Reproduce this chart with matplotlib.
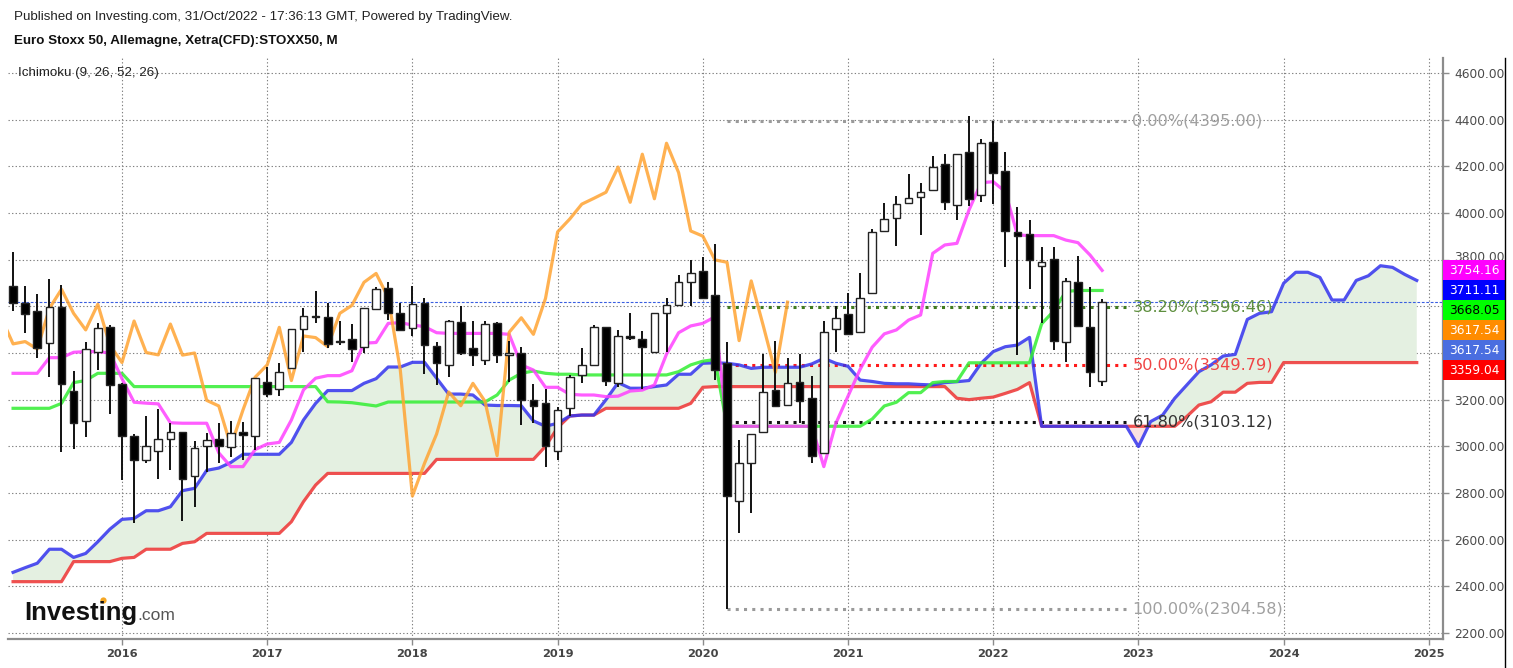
import numpy as np
import matplotlib.pyplot as plt
from matplotlib.patches import Rectangle
import matplotlib.transforms as mtransforms

# monthly candles, Apr 2015 .. Oct 2022 (index 0 = Apr 2015)
opens = [3688, 3616, 3582, 3442, 3596, 3238, 3108, 3403, 3510, 3267,
         3044, 2941, 2979, 3033, 3060, 2873, 3003, 3030, 2997, 3063,
         3044, 3274, 3244, 3334, 3502, 3560, 3556, 3452, 3459, 3424,
         3587, 3677, 3570, 3506, 3616, 3430, 3349, 3533, 3420, 3371,
         3527, 3390, 3400, 3197, 3184, 2981, 3166, 3306, 3349, 3510,
         3273, 3473, 3459, 3406, 3570, 3606, 3703, 3751, 3649, 3356,
         2764, 2927, 3060, 3240, 3177, 3274, 3206, 2970, 3502, 3566,
         3489, 3656, 3924, 3978, 4043, 4067, 4097, 4209, 4036, 4260,
         4078, 4304, 4182, 3917, 3909, 3774, 3801, 3447, 3703, 3511,
         3280]
highs = [3834, 3688, 3653, 3716, 3691, 3325, 3449, 3527, 3520, 3270,
         3051, 3128, 3159, 3101, 3062, 3021, 3059, 3099, 3110, 3106,
         3292, 3342, 3356, 3502, 3591, 3667, 3616, 3539, 3524, 3591,
         3681, 3706, 3616, 3687, 3634, 3449, 3541, 3600, 3539, 3539,
         3534, 3453, 3427, 3267, 3244, 3170, 3306, 3420, 3520, 3512,
         3498, 3573, 3493, 3572, 3634, 3734, 3797, 3811, 3867, 3449,
         3027, 3053, 3397, 3453, 3377, 3396, 3301, 3539, 3603, 3656,
         3743, 3931, 4043, 4073, 4167, 4128, 4243, 4253, 4252, 4416,
         4319, 4395, 4260, 4027, 3969, 3856, 3856, 3720, 3817, 3681,
         3631]
lows = [3580, 3487, 3377, 3296, 2974, 2989, 3039, 3327, 3139, 2856,
        2673, 2930, 2859, 2899, 2678, 2742, 2892, 2927, 2956, 2941,
        2984, 3213, 3216, 3330, 3406, 3530, 3420, 3434, 3363, 3399,
        3585, 3541, 3499, 3473, 3310, 3263, 3299, 3391, 3344, 3349,
        3356, 3277, 3091, 3101, 2910, 2941, 3128, 3271, 3349, 3259,
        3256, 3455, 3244, 3400, 3403, 3604, 3600, 3637, 3284, 2304,
        2629, 2713, 3058, 3174, 3175, 3099, 2927, 2968, 3403, 3477,
        3487, 3654, 3922, 3860, 4041, 3906, 4095, 4013, 3970, 4030,
        4049, 4039, 3768, 3392, 3674, 3530, 3413, 3360, 3516, 3253,
        3259]
closes = [3616, 3567, 3423, 3596, 3267, 3098, 3416, 3506, 3263, 3044,
          2941, 3001, 3030, 3060, 2860, 2992, 3026, 3002, 3056, 3049,
          3292, 3224, 3317, 3502, 3559, 3555, 3439, 3449, 3417, 3591,
          3673, 3570, 3499, 3609, 3434, 3359, 3537, 3402, 3392, 3524,
          3391, 3400, 3197, 3173, 3001, 3156, 3296, 3349, 3510, 3282,
          3473, 3466, 3427, 3570, 3604, 3703, 3741, 3637, 3327, 2787,
          2927, 3053, 3233, 3174, 3270, 3193, 2960, 3489, 3551, 3480,
          3634, 3919, 3974, 4038, 4063, 4089, 4197, 4046, 4252, 4061,
          4299, 4173, 3923, 3901, 3799, 3789, 3453, 3709, 3516, 3317,
          3618]

tenkan = [3313, 3313, 3313, 3380, 3380, 3403, 3406, 3406, 3400, 3290,
          3189, 3185, 3182, 3101, 3099, 3099, 3099, 2972, 2913, 2913,
          2986, 3010, 3017, 3113, 3242, 3292, 3303, 3303, 3324, 3442,
          3445, 3527, 3530, 3520, 3513, 3487, 3484, 3484, 3484, 3484,
          3484, 3480, 3349, 3327, 3253, 3253, 3223, 3220, 3220, 3213,
          3215, 3237, 3241, 3263, 3395, 3487, 3516, 3527, 3555, 3086,
          3086, 3086, 3086, 3086, 3086, 3086, 3086, 2913, 3099, 3215,
          3330, 3425, 3482, 3499, 3541, 3563, 3827, 3863, 3870, 4013,
          4130, 4134, 4091, 3906, 3903, 3903, 3903, 3884, 3873, 3820,
          3754]
kijun = [3163, 3163, 3163, 3163, 3184, 3273, 3282, 3313, 3313, 3313,
         3256, 3256, 3256, 3256, 3256, 3256, 3256, 3256, 3256, 3256,
         3256, 3256, 3256, 3256, 3256, 3256, 3191, 3190, 3187, 3180,
         3173, 3190, 3190, 3190, 3190, 3190, 3190, 3190, 3190, 3190,
         3220, 3284, 3313, 3323, 3313, 3309, 3309, 3306, 3306, 3306,
         3306, 3306, 3306, 3306, 3306, 3320, 3349, 3365, 3372, 3086,
         3086, 3086, 3086, 3086, 3086, 3086, 3086, 3086, 3086, 3086,
         3086, 3117, 3173, 3189, 3230, 3230, 3273, 3278, 3278, 3358,
         3358, 3358, 3358, 3358, 3358, 3525, 3580, 3664, 3668, 3668,
         3668]
# leading spans, Apr 2015 .. Dec 2024
senkou_a = [2460, 2480, 2499, 2559, 2559, 2524, 2541, 2591, 2645, 2687,
            2691, 2724, 2724, 2741, 2810, 2820, 2897, 2907, 2931, 2966,
            2966, 2966, 2966, 3017, 3113, 3184, 3239, 3239, 3239, 3270,
            3290, 3340, 3340, 3360, 3360, 3292, 3224, 3224, 3220, 3177,
            3175, 3175, 3174, 3109, 3086, 3099, 3130, 3134, 3134, 3200,
            3273, 3249, 3249, 3256, 3263, 3309, 3309, 3356, 3358, 3356,
            3349, 3334, 3339, 3339, 3339, 3339, 3353, 3377, 3356, 3343,
            3284, 3278, 3270, 3268, 3268, 3265, 3263, 3273, 3277, 3282,
            3356, 3406, 3427, 3434, 3467, 3086, 3086, 3086, 3086, 3086,
            3086, 3086, 3086, 2999, 3106, 3134, 3206, 3263, 3320, 3349,
            3387, 3394, 3544, 3570, 3577, 3699, 3746, 3746, 3724, 3627,
            3627, 3711, 3731, 3774, 3767, 3737, 3711]
senkou_b = [2420, 2420, 2420, 2420, 2420, 2506, 2506, 2506, 2506, 2520,
            2524, 2559, 2559, 2559, 2584, 2591, 2627, 2627, 2627, 2627,
            2627, 2627, 2627, 2677, 2763, 2834, 2884, 2884, 2884, 2884,
            2884, 2884, 2884, 2884, 2884, 2944, 2944, 2944, 2944, 2944,
            2944, 2944, 2944, 2944, 3000, 3080, 3130, 3134, 3134, 3163,
            3163, 3163, 3163, 3163, 3163, 3163, 3184, 3253, 3256, 3256,
            3256, 3256, 3256, 3256, 3256, 3256, 3256, 3256, 3256, 3256,
            3256, 3256, 3256, 3256, 3256, 3256, 3256, 3256, 3206, 3200,
            3206, 3211, 3227, 3244, 3273, 3086, 3086, 3086, 3086, 3086,
            3086, 3086, 3086, 3086, 3086, 3086, 3086, 3128, 3177, 3191,
            3232, 3232, 3270, 3274, 3274, 3359, 3359, 3359, 3359, 3359,
            3359, 3359, 3359, 3359, 3359, 3359, 3359]
displacement = 26

fib_values = [4395.00, 3596.46, 3349.79, 3103.12, 2304.58]
fib_labels = ['0.00%(4395.00)', '38.20%(3596.46)', '50.00%(3349.79)',
              '61.80%(3103.12)', '100.00%(2304.58)']
fib_line_colors = ['#9a9a9a', '#3f7a1f', '#ff1a1a', '#111111', '#9a9a9a']
fib_text_colors = ['#a0a0a0', '#5e8f3e', '#f04545', '#333333', '#a0a0a0']
fib_start, fib_end = 59, 92

last_price = 3617.54
badge_values = [3754.16, 3711.11, 3668.05, 3617.54, 3617.54, 3359.04]
badge_colors = ['#ff00ff', '#0000ff', '#00ff00', '#ff8c00', '#4a6ee0', '#ff0000']
badge_text = ['white', 'white', 'black', 'white', 'white', 'white']

price_ticks = [2200, 2400, 2600, 2800, 3000, 3200, 3400, 3600, 3800, 4000, 4200, 4400, 4600]
hidden_ticks = [3400, 3600]   # covered by the price badges in the original
years = ['2016', '2017', '2018', '2019', '2020', '2021', '2022', '2023', '2024', '2025']
year_idx = [9, 21, 33, 45, 57, 69, 81, 93, 105, 117]

W, H = 1513, 668
fig = plt.figure(figsize=(W / 100, H / 100), dpi=100)
ax = fig.add_axes([8 / W, 1 - 639 / H, (1443 - 8) / W, (639 - 58) / H])
ax.set_xlim(-0.42, 118.17)
ax.set_ylim(2174.3, 4664.3)

n = len(closes)
x = np.arange(n)
o = np.array(opens); c = np.array(closes)
h = np.array(highs); l = np.array(lows)

# grid
grid_kw = dict(color='#808080', lw=0.8, linestyle=(0, (1.2, 2)), zorder=0)
for yi in price_ticks:
    ax.axhline(yi, **grid_kw)
for xi in year_idx:
    ax.axvline(xi, **grid_kw)

# cloud
xs = np.arange(len(senkou_a))
sa = np.array(senkou_a); sb = np.array(senkou_b)
ax.fill_between(xs, sa, sb, where=sa >= sb, interpolate=True, color='#e4f0e1', lw=0, zorder=1)
ax.fill_between(xs, sa, sb, where=sa < sb, interpolate=True, color='#fbe1e1', lw=0, zorder=1)

line_kw = dict(lw=2.3, alpha=0.85, solid_joinstyle='round', zorder=3)
ax.plot(xs, sb, color='#ee3333', **line_kw)
ax.plot(xs, sa, color='#3333ee', **line_kw)
ax.plot(x, kijun, color='#33ee33', **line_kw)
ax.plot(x, tenkan, color='#ff40ff', **line_kw)
cx = np.arange(-1, n - displacement)
ax.plot(cx, closes[displacement - 1:], color='#ffa433', **line_kw)

# current price line
ax.axhline(last_price, color='#3a5fe0', lw=0.8, linestyle=(0, (2.5, 1.5)), zorder=2)

# fibonacci levels
for v, lab, lc, tc in zip(fib_values, fib_labels, fib_line_colors, fib_text_colors):
    ax.plot([fib_start, fib_end], [v, v], color=lc, lw=2.2, linestyle=(0, (1, 1.7)), zorder=2.5)
    ax.text(fib_end + 0.5, v, lab, color=tc, fontsize=11.6, va='center', ha='left',
            family='DejaVu Sans', zorder=6)

# candles
up = c >= o
ax.vlines(x, l, h, color='#111111', lw=1.4, zorder=4)
body_lo = np.minimum(o, c)
body_h = np.maximum(np.abs(c - o), 4)
ax.bar(x, body_h, bottom=body_lo, width=0.64,
       color=np.where(up, 'white', 'black'), edgecolor='#222222', lw=1.0, zorder=5)

# axes styling
for s in ['top', 'left']:
    ax.spines[s].set_visible(False)
for s in ['right', 'bottom']:
    ax.spines[s].set_color('#8c8c8c')
    ax.spines[s].set_linewidth(1.6)
ax.yaxis.tick_right()
ax.set_yticks(price_ticks)
ax.set_yticklabels(['' if v in hidden_ticks else '%.2f' % v for v in price_ticks])
ax.set_xticks(year_idx)
ax.set_xticklabels(years)
ax.tick_params(axis='y', length=4, width=1, color='#8c8c8c', pad=4, labelsize=8.8,
               labelcolor='#4a4a4a')
ax.tick_params(axis='x', length=4, width=1, color='#8c8c8c', pad=3, labelsize=8.2,
               labelcolor='#444444')
for t in ax.get_xticklabels():
    t.set_fontweight('bold')
# lift the 3800 label a touch so the top badge does not cover it
for t, v in zip(ax.get_yticklabels(), price_ticks):
    if v == 3800:
        t.set_transform(t.get_transform() +
                        mtransforms.ScaledTranslation(0, 4 / 100, fig.dpi_scale_trans))

# price badges on the right axis
trans = mtransforms.blended_transform_factory(ax.transAxes, ax.transData)
px_per_unit = (639 - 58) / (4664.3 - 2174.3)
half = 10 / px_per_unit
bw = 62 / (1443 - 8)
prev = None
for v, bc, tc in zip(badge_values, badge_colors, badge_text):
    yc = v if prev is None else min(v, prev - 2 * half)
    prev = yc
    ax.add_patch(Rectangle((1.0, yc - half), bw, 2 * half, transform=trans,
                           facecolor=bc, edgecolor='none', clip_on=False, zorder=10))
    ax.text(1.0 + 6 / 1435, yc, '%.2f' % v, transform=trans, color=tc, fontsize=8.8,
            va='center', ha='left', family='DejaVu Sans', clip_on=False, zorder=11)

# right border
fig.add_artist(plt.Line2D([1505 / W, 1505 / W], [0, 1 - 58 / H], color='black', lw=1))

# header texts
fig.text(14 / W, 1 - 17 / H,
         'Published on Investing.com, 31/Oct/2022 - 17:36:13 GMT, Powered by TradingView.',
         fontsize=9.6, family='Liberation Sans', va='center', color='#222222')
fig.text(14 / W, 1 - 41 / H, 'Euro Stoxx 50, Allemagne, Xetra(CFD):STOXX50, M',
         fontsize=9.6, family='Liberation Sans', fontweight='bold', va='center', color='#111111')
fig.text(18 / W, 1 - 73 / H, 'Ichimoku (9, 26, 52, 26)', fontsize=9.6,
         family='Liberation Sans', va='center', color='#222222')

# logo
fig.text(24 / W, 1 - 620 / H, 'Investing', fontsize=18.5, family='Liberation Sans',
         fontweight='bold', va='baseline', color='#111111')
fig.text(137 / W, 1 - 620 / H, '.com', fontsize=12.5, family='Liberation Sans',
         va='baseline', color='#555555')
fig.add_artist(plt.Line2D([103 / W], [1 - 600 / H], marker='o', markersize=4.5,
                          color='#f5a623', markeredgewidth=0))

fig.savefig('out.png', dpi=100)
